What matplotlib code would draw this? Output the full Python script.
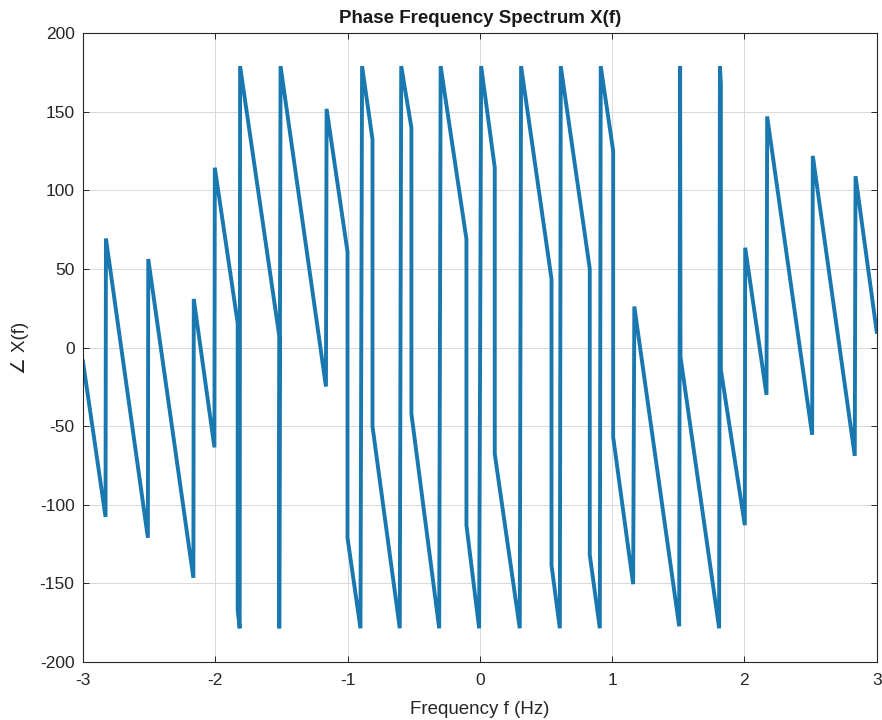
import matplotlib
matplotlib.use("Agg")
import matplotlib.pyplot as plt

plt.rcParams['font.family'] = ['Liberation Sans', 'DejaVu Sans']
plt.rcParams['axes.unicode_minus'] = False

freq = [-3.0, -2.829, -2.826, -2.509, -2.506, -2.165, -2.162, -2.006, -2.003,
        -1.830, -1.830, -1.815, -1.812, -1.516, -1.516, -1.506, -1.163, -1.158,
        -1.000, -1.000, -0.902, -0.890, -0.811, -0.811, -0.605, -0.594, -0.517,
        -0.517, -0.307, -0.296, -0.101, -0.101, -0.005, 0.010, 0.113, 0.113,
        0.302, 0.312, 0.542, 0.542, 0.605, 0.612, 0.831, 0.831, 0.907, 0.914,
        1.008, 1.008, 1.159, 1.168, 1.507, 1.514, 1.517, 1.809, 1.815, 1.822,
        1.822, 2.003, 2.006, 2.167, 2.172, 2.512, 2.517, 2.834, 2.840, 3.0]
phase = [-8.7, -107.7, 69.4, -121.0, 56.3, -146.5, 30.9, -63.5, 114.4,
         15.4, -167.0, -178.6, 179.0, 7.4, -178.6, 179.0, -24.8, 151.8,
         60.9, -121.0, -178.6, 179.0, 132.3, -50.2, -178.6, 179.0, 139.8,
         -42.1, -178.6, 179.0, 68.9, -113.0, -178.6, 179.0, 114.4, -67.6,
         -178.6, 179.0, 43.5, -138.5, -178.6, 179.0, 50.2, -131.8, -178.6, 179.0,
         125.1, -56.9, -150.5, 26.1, -177.3, 179.0, -6.0, -178.6, 179.0, 168.0,
         -14.0, -113.0, 63.5, -30.1, 147.0, -55.5, 121.9, -68.9, 109.0, 10.0]

xticks = [-3, -2, -1, 0, 1, 2, 3]
yticks = [-200, -150, -100, -50, 0, 50, 100, 150, 200]

fig = plt.figure(figsize=(8.82, 7.2), dpi=100)
ax = fig.add_axes([0.094, 0.0806, 0.900, 0.8734])
ax.plot(freq, phase, color='#1a78b0', linewidth=2.8, solid_joinstyle='miter')
ax.set_xlim(-3, 3)
ax.set_ylim(-200, 200)
ax.set_xticks(xticks)
ax.set_yticks(yticks)
ax.grid(True, color='#d9d9d9', linewidth=0.7)
ax.set_axisbelow(True)
ax.tick_params(direction='in', top=True, right=True, labelsize=12.5,
               colors='#262626', length=4, width=0.7)
ax.tick_params(axis='x', pad=8)
ax.tick_params(axis='y', pad=6)
for s in ax.spines.values():
    s.set_color('#262626')
    s.set_linewidth(0.8)
ax.set_title('Phase Frequency Spectrum X(f)', fontsize=13.5, fontweight='bold',
             color='#1a1a1a', pad=7)
ax.set_xlabel('Frequency f (Hz)', fontsize=13.5, color='#262626', labelpad=9)
ax.set_ylabel('∠ X(f)', fontsize=13.5, color='#262626', labelpad=8)
fig.savefig('out.png', dpi=100)
